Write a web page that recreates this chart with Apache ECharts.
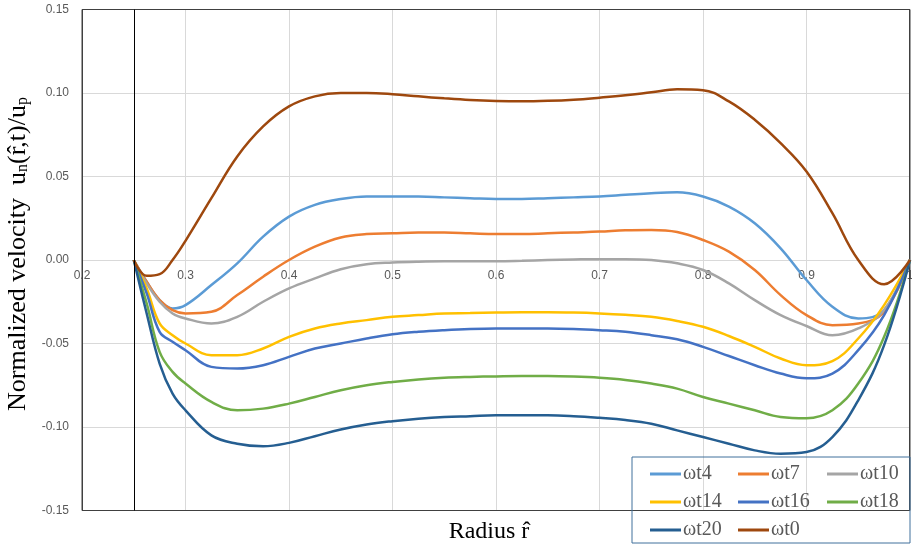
<!DOCTYPE html>
<html>
<head>
<meta charset="utf-8">
<script src="https://cdn.jsdelivr.net/npm/echarts@6/dist/echarts.min.js"></script>
<style>html,body{margin:0;padding:0;background:#fff}#c{width:912px;height:548px}</style>
</head>
<body>
<div id="c"></div>
<script>
const radius = [0.25, 0.2625, 0.275, 0.2875, 0.3, 0.325, 0.35, 0.375, 0.4, 0.425, 0.45, 0.475, 0.5, 0.525, 0.55, 0.575, 0.6, 0.625, 0.65, 0.675, 0.7, 0.725, 0.75, 0.775, 0.8, 0.825, 0.85, 0.875, 0.9, 0.925, 0.95, 0.975, 1.0];
const seriesNames = ['ωt4', 'ωt7', 'ωt10', 'ωt14', 'ωt16', 'ωt18', 'ωt20', 'ωt0'];
const wt4  = [0, -0.013, -0.024, -0.029, -0.027, -0.015, -0.002, 0.014, 0.026, 0.033, 0.0365, 0.038, 0.038, 0.038, 0.0375, 0.037, 0.0365, 0.0365, 0.037, 0.0375, 0.038, 0.039, 0.040, 0.0405, 0.038, 0.032, 0.022, 0.007, -0.012, -0.028, -0.035, -0.030, 0];
const wt7  = [0, -0.013, -0.024, -0.030, -0.032, -0.031, -0.021, -0.010, 0.000, 0.008, 0.0135, 0.0155, 0.016, 0.0165, 0.0165, 0.016, 0.0155, 0.0155, 0.016, 0.0165, 0.017, 0.0178, 0.018, 0.0168, 0.012, 0.005, -0.006, -0.021, -0.033, -0.039, -0.038, -0.031, 0];
const wt10 = [0, -0.014, -0.025, -0.032, -0.035, -0.038, -0.034, -0.025, -0.017, -0.011, -0.0055, -0.0025, -0.0015, -0.001, -0.0008, -0.0008, -0.0008, -0.0005, 0, 0.0003, 0.0005, 0.0005, 0.0, -0.002, -0.006, -0.014, -0.024, -0.033, -0.0395, -0.045, -0.041, -0.030, 0];
const wt14 = [0, -0.017, -0.038, -0.045, -0.050, -0.057, -0.057, -0.053, -0.046, -0.041, -0.038, -0.036, -0.034, -0.033, -0.032, -0.0318, -0.0315, -0.0313, -0.0313, -0.0315, -0.032, -0.0328, -0.034, -0.0365, -0.040, -0.0455, -0.052, -0.059, -0.063, -0.0605, -0.047, -0.027, 0];
const wt16 = [0, -0.020, -0.043, -0.049, -0.054, -0.064, -0.065, -0.063, -0.058, -0.053, -0.050, -0.047, -0.0445, -0.043, -0.042, -0.0413, -0.041, -0.041, -0.041, -0.0413, -0.042, -0.043, -0.045, -0.0475, -0.052, -0.0575, -0.063, -0.068, -0.0708, -0.068, -0.054, -0.033, 0];
const wt18 = [0, -0.026, -0.055, -0.067, -0.074, -0.085, -0.090, -0.089, -0.086, -0.082, -0.078, -0.075, -0.073, -0.0715, -0.0705, -0.070, -0.0697, -0.0695, -0.0695, -0.0698, -0.0705, -0.0718, -0.074, -0.077, -0.082, -0.086, -0.090, -0.094, -0.0948, -0.090, -0.074, -0.046, 0];
const wt20 = [0, -0.032, -0.062, -0.080, -0.090, -0.105, -0.110, -0.1115, -0.1095, -0.1055, -0.1015, -0.0985, -0.0965, -0.095, -0.094, -0.0935, -0.093, -0.093, -0.093, -0.0935, -0.0945, -0.0958, -0.098, -0.102, -0.106, -0.110, -0.114, -0.116, -0.115, -0.106, -0.084, -0.051, 0];
const wt0  = [0, -0.0095, -0.0085, 0.0, 0.0115, 0.037, 0.062, 0.080, 0.092, 0.098, 0.100, 0.100, 0.0993, 0.098, 0.0968, 0.0958, 0.0952, 0.095, 0.0953, 0.096, 0.0972, 0.0986, 0.1004, 0.1022, 0.1017, 0.095, 0.084, 0.070, 0.053, 0.028, 0.0, -0.0145, 0];
const seriesValues = [wt4, wt7, wt10, wt14, wt16, wt18, wt20, wt0];
const colors = ['#5B9BD5', '#ED7D31', '#A5A5A5', '#FFC000', '#4472C4', '#70AD47', '#255E91', '#9E480E'];
const xTicks = {min: 0.2, max: 1.0, interval: 0.1};
const yTicks = {min: -0.15, max: 0.15, interval: 0.05};
const axisCross = 0.25;
const legendColumns = [['ωt4', 'ωt14', 'ωt20'], ['ωt7', 'ωt16', 'ωt0'], ['ωt10', 'ωt18']];
const legendLefts = [650, 738, 827];

const chart = echarts.init(document.getElementById('c'), null, {renderer: 'canvas'});
const serif = '"Liberation Serif", "Times New Roman", serif';
const sans = '"Liberation Sans", Arial, sans-serif';

const series = seriesNames.map((n, i) => {
  const s = {
    name: n,
    type: 'line',
    xAxisIndex: 0,
    yAxisIndex: 0,
    data: radius.map((r, k) => [r, seriesValues[i][k]]),
    smooth: 0.4,
    symbol: 'none',
    lineStyle: {color: colors[i], width: 2.5},
    itemStyle: {color: colors[i]},
    z: 3
  };
  if (i === 0) {
    s.markLine = {
      silent: true,
      symbol: 'none',
      label: {show: false},
      lineStyle: {color: '#000', width: 1, type: 'solid'},
      data: [{xAxis: axisCross}],
      animation: false
    };
  }
  return s;
});

const legends = legendColumns.map((col, i) => ({
  data: col,
  orient: 'vertical',
  left: legendLefts[i],
  top: 464,
  icon: 'rect',
  itemWidth: 31,
  itemHeight: 3,
  itemGap: 8,
  padding: 0,
  textStyle: {fontFamily: serif, fontSize: 20, color: '#595959', lineHeight: 20, padding: [0, 0, 0, -3]},
  selectedMode: false
}));

chart.setOption({
  animation: false,
  backgroundColor: '#fff',
  grid: [
    {left: 82, top: 9.5, right: 2, bottom: 37.5, show: true, borderColor: '#404040', borderWidth: 1, containLabel: false, outerBoundsMode: 'none', z: 1},
    {left: 82, top: 259, right: 2, height: 1, show: false, containLabel: false, outerBoundsMode: 'none'}
  ],
  legend: legends,
  graphic: [{
    type: 'rect',
    shape: {x: 632, y: 457, width: 278, height: 86},
    style: {fill: 'none', stroke: '#41719C', lineWidth: 1},
    z: 10
  }, {
    type: 'rect',
    shape: {x: 82.5, y: 9.5, width: 827, height: 501},
    style: {fill: 'none', stroke: '#404040', lineWidth: 1},
    silent: true,
    z: 2
  }],
  xAxis: [{
    gridIndex: 0,
    type: 'value',
    min: xTicks.min, max: xTicks.max, interval: xTicks.interval,
    axisLine: {show: false, onZero: false},
    axisTick: {show: false},
    axisLabel: {show: false},
    splitLine: {show: true, showMinLine: false, showMaxLine: false, lineStyle: {color: '#D9D9D9', width: 1}},
    name: 'Radius r̂',
    nameLocation: 'middle',
    nameGap: 9,
    nameTextStyle: {fontFamily: serif, fontSize: 24, color: '#000', padding: [0, 14, 0, 0]}
  }, {
    gridIndex: 1,
    type: 'value',
    position: 'bottom',
    min: xTicks.min, max: xTicks.max, interval: xTicks.interval,
    axisLine: {show: false, onZero: false},
    axisTick: {show: false},
    axisLabel: {color: '#595959', fontFamily: sans, fontSize: 12, margin: 10, formatter: v => String(+v.toFixed(1))},
    splitLine: {show: false}
  }],
  yAxis: [{
    gridIndex: 0,
    type: 'value',
    min: yTicks.min, max: yTicks.max, interval: yTicks.interval,
    axisLine: {show: false, onZero: false},
    axisTick: {show: false},
    axisLabel: {color: '#595959', fontFamily: sans, fontSize: 12, margin: 13, formatter: v => v.toFixed(2)},
    splitLine: {show: true, showMinLine: false, showMaxLine: false, lineStyle: {color: '#D9D9D9', width: 1}},
    name: 'Normalized velocity  u{sub|n}(r̂,t)/u{sub|p}',
    nameLocation: 'middle',
    nameGap: 35,
    nameTextStyle: {
      fontFamily: serif, fontSize: 26, color: '#000', padding: [0, 0, 0, 12],
      rich: {sub: {fontFamily: serif, fontSize: 16, color: '#000', verticalAlign: 'bottom', padding: [10, 0, 0, 0]}}
    }
  }, {
    gridIndex: 1,
    type: 'value',
    min: 0, max: 1,
    show: false
  }],
  series: series
});
</script>
</body>
</html>
